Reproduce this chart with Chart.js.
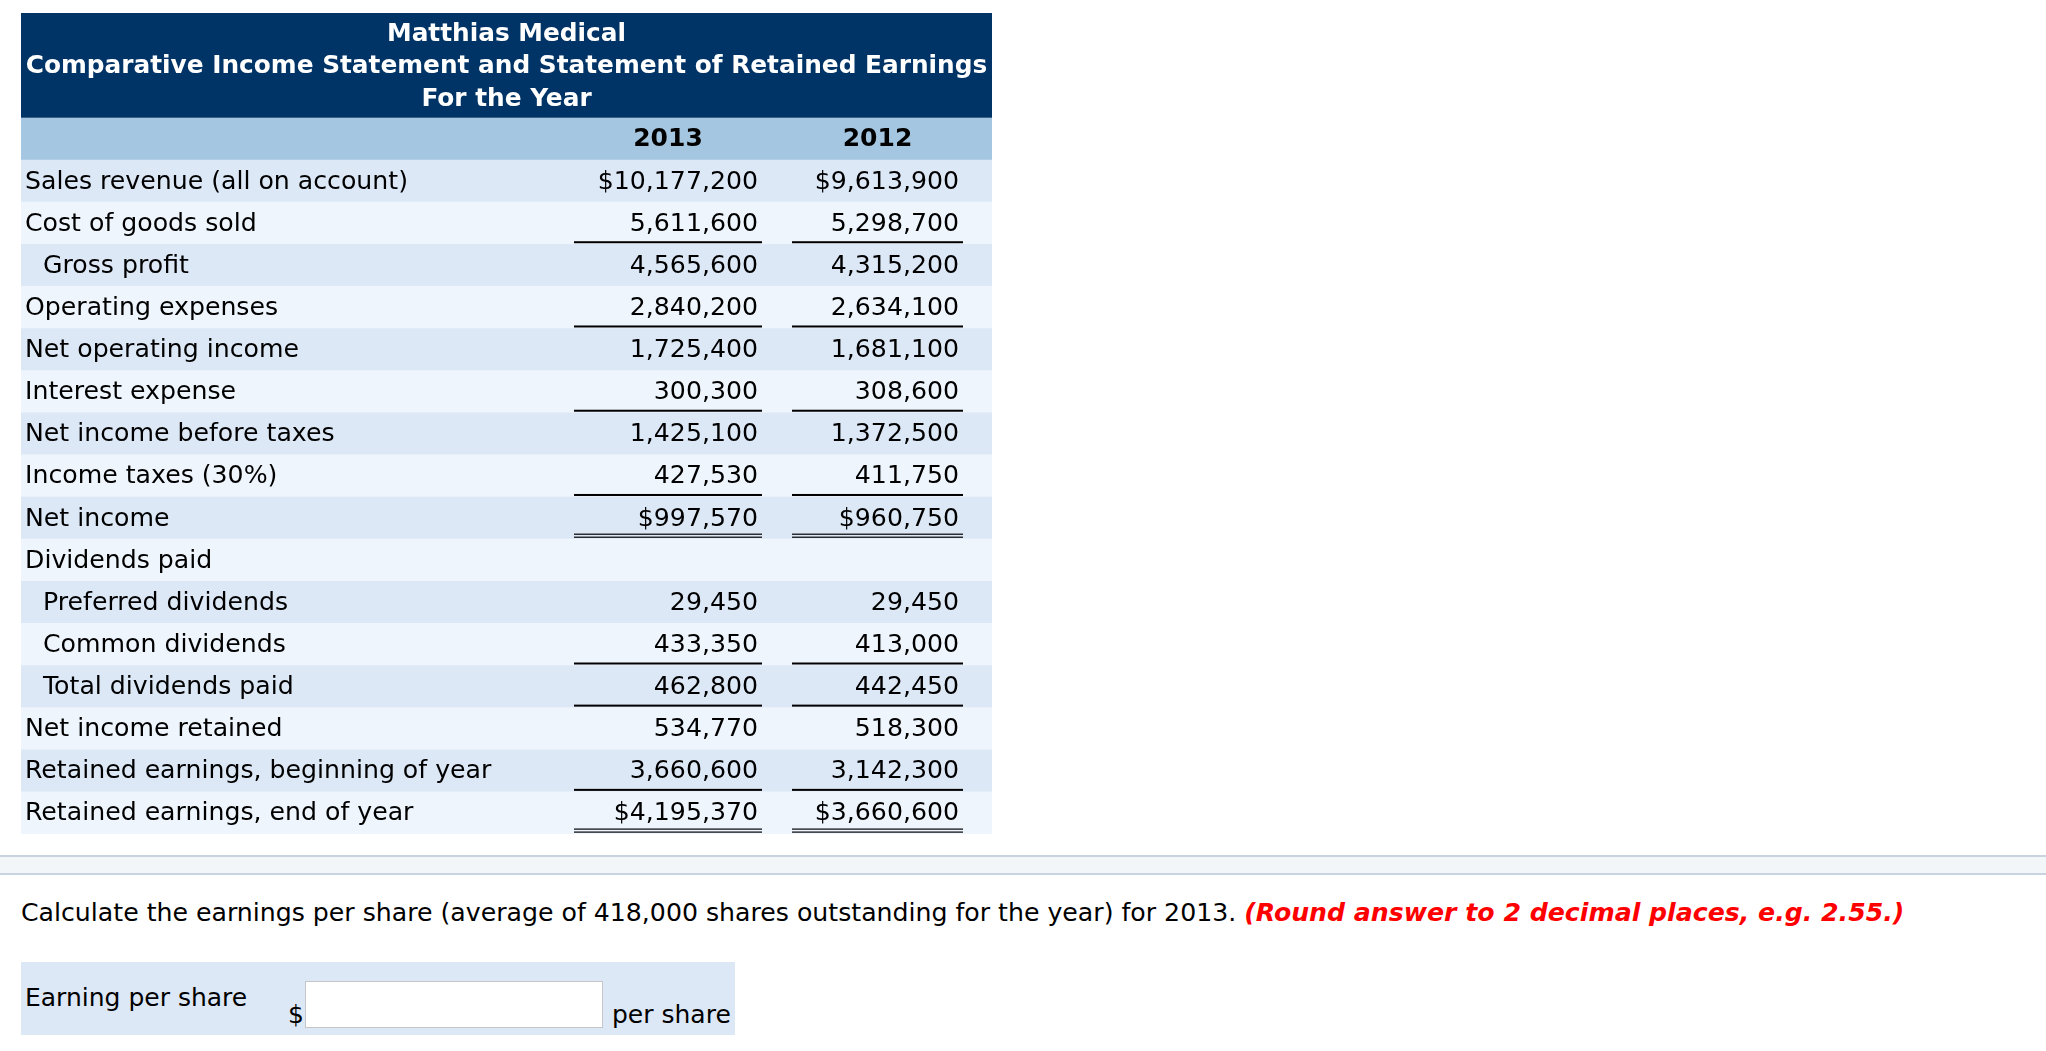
<!DOCTYPE html>
<html>
<head>
<meta charset="utf-8">
<script src="https://cdn.jsdelivr.net/npm/chart.js@4/dist/chart.umd.min.js"></script>
<style>
  html, body { margin: 0; padding: 0; background: #ffffff; width: 2046px; height: 1051px; overflow: hidden; }
  body { font-family: "DejaVu Sans", Verdana, sans-serif; color: #000; position: relative; }
  #tbl { position: absolute; left: 21px; top: 13px; }
  #sep { position: absolute; left: 0; top: 855px; width: 2046px; height: 16px; background: #f3f6f9;
         border-top: 2px solid #c9d3df; border-bottom: 2px solid #c9d3df; }
  #q { position: absolute; left: 21px; top: 898px; font-size: 25.2px; line-height: 30px; white-space: nowrap; }
  #q .red { color: #ff0000; font-weight: bold; font-style: italic; }
  #ans { position: absolute; left: 21px; top: 962px; width: 714px; height: 73px; background: #dde8f7; font-size: 25px; line-height: 30px; }
  #ans .lbl { position: absolute; left: 4px; top: 21px; white-space: nowrap; }
  #ans .dol { position: absolute; left: 267px; top: 38px; }
  #ans .inp { position: absolute; left: 284px; top: 19px; width: 296px; height: 45px; background: #fff; border: 1px solid #c6c6c6; }
  #ans .ps { position: absolute; left: 591px; top: 38px; white-space: nowrap; }
</style>
</head>
<body>
<canvas id="tbl" width="971" height="821"></canvas>
<div id="sep"></div>
<div id="q">Calculate the earnings per share (average of 418,000 shares outstanding for the year) for 2013. <span class="red">(Round answer to 2 decimal places, e.g. 2.55.)</span></div>
<div id="ans"><span class="lbl">Earning per share</span><span class="dol">$</span><div class="inp"></div><span class="ps">per share</span></div>
<script>
// ---- data ----
const titleLines = ['Matthias Medical', 'Comparative Income Statement and Statement of Retained Earnings', 'For the Year'];
const yearLabels = ['2013', '2012'];
const rowLabels = [
  'Sales revenue (all on account)',
  'Cost of goods sold',
  'Gross profit',
  'Operating expenses',
  'Net operating income',
  'Interest expense',
  'Net income before taxes',
  'Income taxes (30%)',
  'Net income',
  'Dividends paid',
  'Preferred dividends',
  'Common dividends',
  'Total dividends paid',
  'Net income retained',
  'Retained earnings, beginning of year',
  'Retained earnings, end of year'
];
const rowIndent = [0, 0, 1, 0, 0, 0, 0, 0, 0, 0, 1, 1, 1, 0, 0, 0];
const values2013 = [10177200, 5611600, 4565600, 2840200, 1725400, 300300, 1425100, 427530, 997570, null, 29450, 433350, 462800, 534770, 3660600, 4195370];
const values2012 = [9613900, 5298700, 4315200, 2634100, 1681100, 308600, 1372500, 411750, 960750, null, 29450, 413000, 442450, 518300, 3142300, 3660600];
const dollarRow = [1, 0, 0, 0, 0, 0, 0, 0, 1, 0, 0, 0, 0, 0, 0, 1];
const rowRule = ['', 'single', '', 'single', '', 'single', '', 'single', 'double', '', '', 'single', 'single', '', 'single', 'double'];

// ---- layout / style ----
const W = 971;
const FONT = '"DejaVu Sans", Verdana, sans-serif';
const C = { dark: '#003366', year: '#a5c6e0', rowA: '#dde8f7', rowB: '#eef5fd' };
const COLS = { label: 4, indent: 22, cols: [[553, 741], [771, 942]], padR: 4 };

const tableRows = [''].concat(rowLabels);
const fmt = (v, d) => (d ? '$' : '') + v.toLocaleString('en-US');

const tablePlugin = {
  id: 'tableText',
  beforeDraw(chart) {
    const ctx = chart.ctx;
    ctx.save();
    ctx.fillStyle = C.dark;
    ctx.fillRect(0, 0, chart.width, chart.chartArea.top);
    ctx.restore();
  },
  afterDatasetsDraw(chart) {
    const ctx = chart.ctx, xs = chart.scales.x, ys = chart.scales.y;
    const h = ys.getPixelForValue(1) - ys.getPixelForValue(0);
    ctx.save();
    ctx.textBaseline = 'middle';
    // year header
    ctx.font = 'bold 25px ' + FONT;
    ctx.textAlign = 'center';
    ctx.fillStyle = '#000';
    const y0 = ys.getPixelForValue(0) + 1;
    yearLabels.forEach((yl, k) => {
      const c = COLS.cols[k];
      ctx.fillText(yl, (xs.getPixelForValue(c[0]) + xs.getPixelForValue(c[1])) / 2, y0);
    });
    ctx.font = '25.2px ' + FONT;
    rowLabels.forEach((lab, i) => {
      const yc = ys.getPixelForValue(i + 1) + 1;
      const bottom = ys.getPixelForValue(i + 1) + h / 2;
      ctx.textAlign = 'left';
      ctx.fillText(lab, xs.getPixelForValue(rowIndent[i] ? COLS.indent : COLS.label), yc);
      [values2013, values2012].forEach((arr, k) => {
        const c = COLS.cols[k];
        const v = arr[i];
        if (v !== null) {
          ctx.textAlign = 'right';
          ctx.fillText(fmt(v, dollarRow[i]), xs.getPixelForValue(c[1] - COLS.padR), yc);
        }
        const xa = xs.getPixelForValue(c[0]), xb = xs.getPixelForValue(c[1]);
        ctx.fillStyle = '#000';
        if (rowRule[i] === 'single') {
          ctx.fillRect(xa, bottom - 3, xb - xa, 2);
        } else if (rowRule[i] === 'double') {
          ctx.fillRect(xa, bottom - 5.5, xb - xa, 1.2);
          ctx.fillRect(xa, bottom - 2.5, xb - xa, 1.2);
        }
      });
    });
    ctx.restore();
  }
};

new Chart(document.getElementById('tbl'), {
  type: 'bar',
  data: {
    labels: tableRows,
    datasets: [{
      data: tableRows.map(() => [0, W]),
      backgroundColor: tableRows.map((_, i) => i === 0 ? C.year : (i % 2 === 1 ? C.rowA : C.rowB)),
      borderWidth: 0,
      barPercentage: 1,
      categoryPercentage: 1
    }]
  },
  options: {
    indexAxis: 'y',
    responsive: false,
    animation: false,
    devicePixelRatio: 1,
    layout: { padding: 0 },
    scales: {
      x: { type: 'linear', min: 0, max: W, display: false },
      y: { type: 'category', display: false, offset: true }
    },
    plugins: {
      legend: { display: false },
      tooltip: { enabled: false },
      title: {
        display: true,
        text: titleLines,
        color: '#ffffff',
        font: { family: FONT, size: 24.8, weight: 'bold', lineHeight: 1.315 },
        padding: { top: 5, bottom: 2 }
      }
    }
  },
  plugins: [tablePlugin]
});
</script>
</body>
</html>
